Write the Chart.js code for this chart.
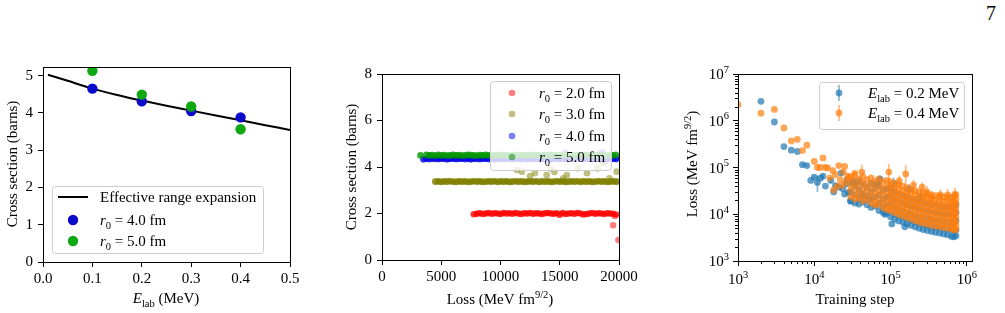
<!DOCTYPE html>
<html>
<head>
<meta charset="utf-8">
<script src="https://cdn.jsdelivr.net/npm/chart.js@4.4.0/dist/chart.umd.min.js"></script>
<style>
  body { margin: 0; background: #fff; width: 1005px; height: 313px; position: relative; overflow: hidden; }
  canvas { position: absolute; left: 0; top: 0; }
  #pg { position: absolute; left: 986px; top: 3px; font: 20px/20px "Liberation Serif", serif; }
</style>
</head>
<body>
<div id="pg">7</div>
<canvas id="c1" width="1005" height="313"></canvas>
<canvas id="c2" width="1005" height="313"></canvas>
<canvas id="c3" width="1005" height="313"></canvas>
<script>
/* ---------- panel 1 : cross section vs E_lab ---------- */
const ereE     = [0.01, 0.05, 0.1, 0.15, 0.2, 0.25, 0.3, 0.35, 0.4, 0.45, 0.5];
const ereSigma = [5.02, 4.86, 4.65, 4.48, 4.33, 4.19, 4.06, 3.93, 3.80, 3.67, 3.54];
const labE     = [0.1, 0.2, 0.3, 0.4];
const sigmaR4  = [4.65, 4.31, 4.05, 3.88];
const sigmaR5  = [5.13, 4.49, 4.17, 3.56];
const p1xTicks = [0, 0.1, 0.2, 0.3, 0.4, 0.5];
const p1yTicks = [0, 1, 2, 3, 4, 5];

/* ---------- panel 2 : cross section vs loss ---------- */
const lossGrid = [3250, 3500, 3750, 4000, 4250, 4500, 4750, 5000, 5250, 5500, 5750, 6000, 6250, 6500, 6750, 7000, 7250,
  7500, 7750, 8000, 8250, 8500, 8750, 9000, 9250, 9500, 9750, 10000, 10250, 10500, 10750, 11000, 11250, 11500, 11750,
  12000, 12250, 12500, 12750, 13000, 13250, 13500, 13750, 14000, 14250, 14500, 14750, 15000, 15250, 15500, 15750,
  16000, 16250, 16500, 16750, 17000, 17250, 17500, 17750, 18000, 18250, 18500, 18750, 19000, 19250, 19500, 19750];
const csR2 = [null, null, null, null, null, null, null, null, null, null, null, null, null, null, null, null, null, null,
  1.97, 1.99, 2.01, 1.98, 2.00, 2.02, 1.99, 2.01, 2.00, 1.98, 2.02, 2.00, 2.01, 1.99, 2.02, 2.00, 1.98, 2.01, 2.00,
  2.02, 1.99, 2.01, 2.00, 1.98, 2.01, 2.02, 2.00, 1.99, 2.01, 1.95, 2.02, 1.98, 2.00, 2.01, 1.99, 2.02, 2.00, 1.96,
  1.98, 2.00, 2.02, 1.99, 2.01, 2.00, 1.98, 2.01, 2.00, 1.99, 1.96];
const csR3 = [null, null, null, null, null, 3.37, 3.38, 3.36, 3.38, 3.37, 3.39, 3.37, 3.36, 3.38, 3.37, 3.38, 3.36,
  3.37, 3.39, 3.37, 3.38, 3.36, 3.37, 3.38, 3.37, 3.39, 3.36, 3.38, 3.37, 3.38, 3.36, 3.37, 3.39, 3.37, 3.38, 3.36,
  3.37, 3.38, 3.37, 3.39, 3.36, 3.38, 3.37, 3.38, 3.36, 3.37, 3.39, 3.37, 3.38, 3.36, 3.37, 3.38, 3.37, 3.39, 3.36,
  3.38, 3.37, 3.38, 3.36, 3.37, 3.39, 3.37, 3.38, 3.36, 3.37, 3.38, 3.37];
const csR4 = [null, 4.33, 4.35, 4.34, 4.36, 4.35, 4.34, 4.36, 4.35, 4.33, 4.35, 4.36, 4.34, 4.35, 4.36, 4.34, 4.35,
  4.33, 4.36, 4.35, 4.34, 4.35, 4.36, 4.34, 4.35, 4.33, 4.36, 4.35, 4.34, 4.36, 4.35, 4.34, 4.35, 4.36, 4.33, 4.35,
  4.34, 4.36, 4.35, 4.34, 4.35, 4.36, 4.34, 4.35, 4.33, 4.36, 4.35, 4.34, 4.36, 4.35, 4.34, 4.35, 4.36, 4.33, 4.35,
  4.34, 4.36, 4.35, 4.34, 4.35, 4.36, 4.34, 4.35, 4.33, 4.36, 4.35, 4.34];
const csR5 = [4.50, null, 4.52, 4.50, 4.51, 4.49, 4.52, 4.50, 4.51, 4.49, 4.50, 4.52, 4.50, 4.51, 4.49, 4.50, 4.52,
  4.51, 4.50, 4.49, 4.51, 4.50, 4.52, 4.50, 4.49, 4.51, 4.50, 4.52, 4.51, 4.50, 4.49, 4.51, 4.50, 4.52, 4.50, 4.51,
  4.49, 4.50, 4.52, 4.51, 4.50, 4.49, 4.51, 4.50, 4.52, 4.50, 4.51, 4.49, 4.50, 4.52, 4.51, 4.50, 4.49, 4.51, 4.50,
  4.52, 4.50, 4.51, 4.49, 4.50, 4.52, 4.51, 4.50, 4.49, 4.51, 4.50, 4.52];
// stray points
const redOutX   = [19500, 19650, 19950];
const redOutY   = [1.49, 1.89, 0.86];
const oliveOutX = [11390, 11800, 12500, 12900, 13900, 14200, 14550, 15300, 15600, 16500, 17300, 18200, 18600, 18800, 19200, 19800, 19900];
const oliveOutY = [3.87, 3.80, 3.61, 3.73, 3.65, 3.94, 3.78, 3.51, 3.65, 3.95, 3.73, 3.94, 4.18, 4.20, 3.51, 3.80, 3.37];
const blueOutX  = [15500, 18600, 19900];
const blueOutY  = [4.60, 4.62, 4.40];
const p2xTicks = [0, 5000, 10000, 15000, 20000];
const p2yTicks = [0, 2, 4, 6, 8];

/* ---------- panel 3 : loss vs training step ---------- */
const blueSteps = [2000, 3000, 4000, 5000, 6000, 7000, 8000, 9000, 10000, 11000, 12000, 13000, 14000, 16500, 18000,
  19000, 21000, 22500, 23700, 25000, 26000, 27000, 28000, 30000, 32000, 36000, 42000, 52000, 64000, 73000, 84000,
  104000, 110000, 154000, 175000, 250000];
const blueLoss  = [2.6e6, 9.4e5, 2.8e5, 2.35e5, 2.2e5, 1.15e5, 1.1e5, 5.3e4, 6.2e4, 4.8e4, 5.9e4, 6.5e4, 4.0e4, 5.3e4, 3.0e4,
  4.1e4, 3.8e4, 7.6e4, 3.5e4, 2.7e4, 4.45e4, 5.5e4, 2.9e4, 1.95e4, 5.2e4, 4.7e4, 2.5e4, 2.2e4, 4.5e4, 5.6e4, 1.0e4,
  6.2e3, 4.5e4, 5.4e3, 3.4e4, 2.4e4];
const blueErr   = [0, 0, 0, 0, 0, 8000, 6000, 0, 5000, 18000, 0, 8000, 0, 6000, 0,
  0, 0, 8000, 0, 0, 0, 0, 0, 0, 0, 0, 0, 0, 0, 12000, 0,
  0, 15000, 0, 10000, 8000];
const orangeSteps = [1000, 2000, 3000, 4000, 5000, 6000, 7000, 8000, 10000, 11000, 12000, 13000, 14000, 15000, 16000,
  17500, 18000, 19000, 20000, 21000, 22000, 23000, 24000, 25000, 26000, 27500, 28000, 33700, 42000, 95000, 130000,
  158000, 200000, 260000, 300000, 350000, 450000, 560000, 700000];
const orangeLoss  = [2.2e6, 1.45e6, 1.75e6, 7.0e5, 3.7e5, 4.0e5, 2.3e5, 3.0e5, 1.35e5, 1.0e5, 1.0e5, 1.6e5, 1.0e5, 9.8e4, 6.0e4,
  8.6e4, 3.3e4, 7.0e4, 4.0e4, 1.1e5, 5.5e4, 4.1e4, 8.0e4, 1.05e5, 4.8e4, 6.5e4, 5.8e4, 6.9e4, 8.0e4, 8.0e4, 5.2e4,
  7.3e4, 4.2e4, 3.8e4, 3.0e4, 2.3e4, 2.6e4, 2.6e4, 2.7e4];
const orangeErr   = [0, 0, 0, 0, 0, 0, 0, 0, 0, 0, 0, 0, 0, 0, 0,
  0, 0, 0, 0, 0, 0, 0, 0, 0, 0, 8000, 0, 0, 35000, 40000, 15000,
  40000, 12000, 10000, 10000, 8000, 8000, 9000, 10000];
// dense part of the run: several readings per step
const blobSteps = [30000, 34000, 38500, 43500, 49000, 55500, 62500, 70500, 79500, 89000, 100000, 113000, 128000, 145000,
  164000, 185000, 210000, 237000, 268000, 303000, 343000, 388000, 439000, 496000, 560000, 630000, 680000, 720000];
const orangeBlob = [
  [62000, 44000, 33000, 24000], [75000, 52000, 38000, 27000, 21000], [57000, 42000, 30000, 22500],
  [64000, 47000, 34000, 25000, 19000], [55000, 39000, 28500, 21000], [60000, 44000, 32000, 23500, 17500],
  [52000, 37000, 27000, 19500, 15500], [57000, 41000, 30000, 22000, 16500], [49000, 35000, 26000, 19000, 14000],
  [53000, 39000, 28000, 20500, 15000, 12500],
  [50000, 41000, 33000, 27000, 22000, 18000, 14500, 12000], [46000, 37000, 30000, 24500, 20000, 16000, 13000, 10800],
  [43000, 35000, 28000, 23000, 18500, 15000, 12000, 9800], [40000, 32000, 26000, 21000, 17000, 14000, 11200, 9200],
  [37000, 30000, 24000, 19500, 16000, 13000, 10500, 8500], [34000, 28000, 22500, 18500, 15000, 12000, 9700, 7900],
  [32000, 26000, 21000, 17000, 14000, 11200, 9000, 7300], [30000, 24500, 20000, 16000, 13000, 10500, 8400, 6800],
  [28500, 23000, 18800, 15200, 12300, 10000, 8000, 6400], [27000, 22000, 18000, 14500, 11800, 9500, 7600, 6100],
  [26000, 21000, 17200, 14000, 11300, 9100, 7300, 5800], [25000, 20300, 16500, 13400, 10800, 8700, 7000, 5600],
  [24000, 19600, 16000, 13000, 10400, 8400, 6700, 5400], [23500, 19000, 15500, 12500, 10100, 8100, 6500, 5200],
  [23000, 18600, 15000, 12200, 9800, 7900, 6300, 5000], [23000, 18500, 15000, 12000, 9600, 7700, 6100, 4900],
  [24000, 19500, 15800, 12700, 10200, 8200, 6500, 5200, 4600], [26000, 21000, 17000, 13800, 11000, 8800, 7000, 5600, 4700]
];
const blueBlob = [
  [48000, 30000, 19000], [40000, 26000, 17500], [52000, 33000, 22000, 16500], [44000, 28000, 18500],
  [38000, 24500, 16000], [46000, 30000, 20000, 14000], [36000, 23000, 15000], [41000, 26000, 17000, 12000],
  [33000, 21000, 14500, 11000], [35000, 23000, 15500, 10500],
  [36000, 25000, 17000, 12000, 8800], [30000, 21000, 14500, 10300, 7900], [27000, 19000, 13000, 9400, 7200],
  [25000, 17500, 12000, 8800, 6800], [23000, 16000, 11000, 8100, 6300], [21000, 15000, 10300, 7500, 5800],
  [20000, 14000, 9600, 7000, 5400], [18500, 13000, 9000, 6500, 5000], [17500, 12300, 8500, 6100, 4700],
  [16500, 11700, 8100, 5800, 4500], [16000, 11200, 7800, 5550, 4300], [15300, 10800, 7500, 5350, 4100],
  [14800, 10400, 7200, 5150, 3950], [14300, 10000, 7000, 5000, 3800], [14000, 9800, 6800, 4800, 3650],
  [14000, 9600, 6600, 4700, 3350], [15000, 10000, 6900, 4500, 3300], [16000, 11000, 7400, 4600, 3450]
];
const p3xMajor = [1e3, 1e4, 1e5, 1e6];
const p3yMajor = [1e3, 1e4, 1e5, 1e6, 1e7];

/* ---------- helpers ---------- */
const FAMILY = '"Liberation Serif", "Times New Roman", serif';
const FS = 15;

const xy = (xs, ys) => xs.map((x, i) => ({ x, y: ys[i] })).filter(p => p.y != null);
const xye = (xs, ys, es) => xs.map((x, i) => ({ x, y: ys[i], e: es[i] }));
const blob = (xs, rows) => xs.flatMap((x, i) => rows[i].map(y => ({ x, y })));

// text with italic / sub / sup pieces
function rich(ctx, parts, x, y, align, rotate) {
  const fnt = st => (st === 'i' ? 'italic ' : '') + ((st === 'sub' || st === 'sup') ? FS * 0.7 : FS) + 'px ' + FAMILY;
  let w = 0;
  const ws = parts.map(([t, st]) => { ctx.font = fnt(st); const m = ctx.measureText(t).width; w += m; return m; });
  ctx.save();
  ctx.translate(x, y);
  if (rotate) ctx.rotate(-Math.PI / 2);
  let cx = align === 'center' ? -w / 2 : align === 'right' ? -w : 0;
  ctx.fillStyle = '#000';
  ctx.textAlign = 'left';
  ctx.textBaseline = 'alphabetic';
  parts.forEach(([t, st], i) => {
    ctx.font = fnt(st);
    const dy = st === 'sub' ? FS * 0.25 : st === 'sup' ? -FS * 0.42 : 0;
    ctx.fillText(t, cx, dy);
    cx += ws[i];
  });
  ctx.restore();
}

function legendBox(ctx, x0, y0, x1, y1) {
  ctx.save();
  ctx.beginPath();
  ctx.roundRect(x0 + 0.5, y0 + 0.5, x1 - x0, y1 - y0, 3);
  ctx.fillStyle = 'rgba(255,255,255,0.8)';
  ctx.fill();
  ctx.strokeStyle = '#cccccc';
  ctx.lineWidth = 1;
  ctx.stroke();
  ctx.restore();
}

function dot(ctx, x, y, r, color) {
  ctx.beginPath();
  ctx.arc(x, y, r, 0, Math.PI * 2);
  ctx.fillStyle = color;
  ctx.fill();
}

const frame = {
  id: 'frame',
  afterDraw(chart) {
    const { ctx, chartArea: a } = chart;
    ctx.save();
    ctx.strokeStyle = '#000';
    ctx.lineWidth = 1;
    ctx.strokeRect(Math.round(a.left) + 0.5, Math.round(a.top) + 0.5, Math.round(a.right - a.left), Math.round(a.bottom - a.top));
    ctx.restore();
  }
};

const errorBars = {
  id: 'errorBars',
  beforeDatasetDraw(chart, args) {
    const ds = chart.data.datasets[args.index];
    if (!ds.errColor) return;
    const { ctx, scales: { y } } = chart;
    ctx.save();
    ctx.strokeStyle = ds.errColor;
    ctx.lineWidth = 1.8;
    args.meta.data.forEach((pt, i) => {
      const d = ds.data[i];
      if (!d.e) return;
      ctx.beginPath();
      ctx.moveTo(pt.x, y.getPixelForValue(d.y + d.e));
      ctx.lineTo(pt.x, y.getPixelForValue(Math.max(d.y - d.e, 1)));
      ctx.stroke();
    });
    ctx.restore();
  }
};

const tickGrid = { display: true, drawOnChartArea: false, drawTicks: true, tickLength: 5, color: '#000', lineWidth: 1 };
const tickFont = { family: FAMILY, size: FS };

function baseOptions(box, xScale, yScale) {
  return {
    responsive: false,
    animation: false,
    events: [],
    layout: { padding: { left: 0, top: box.T, right: 1005 - box.R, bottom: 0 } },
    plugins: { legend: { display: false }, tooltip: { enabled: false } },
    scales: {
      x: Object.assign({ position: 'bottom', grid: tickGrid, border: { display: false },
        afterFit: s => { s.height = 313 - box.B; } }, xScale),
      y: Object.assign({ position: 'left', grid: tickGrid, border: { display: false },
        afterFit: s => { s.width = box.L; } }, yScale)
    }
  };
}

/* ---------- panel 1 ---------- */
const BLUE1 = '#0b0bcc', GREEN1 = '#10a810';
new Chart(document.getElementById('c1'), {
  type: 'scatter',
  data: { datasets: [
    { data: xy(ereE, ereSigma), showLine: true, borderColor: '#000', borderWidth: 2, pointRadius: 0,
      cubicInterpolationMode: 'monotone', order: 3 },
    { data: xy(labE, sigmaR4), pointBackgroundColor: BLUE1, pointBorderWidth: 0, pointRadius: 5.2, order: 2 },
    { data: xy(labE, sigmaR5), pointBackgroundColor: GREEN1, pointBorderWidth: 0, pointRadius: 5.2, order: 1 }
  ]},
  options: baseOptions({ L: 43, R: 290, T: 67, B: 262 },
    { type: 'linear', min: 0, max: 0.5,
      afterBuildTicks: s => { s.ticks = p1xTicks.map(value => ({ value })); },
      ticks: { font: tickFont, color: '#000', padding: 3, autoSkip: false, maxRotation: 0, callback: v => v.toFixed(1) } },
    { type: 'linear', min: 0, max: 5.23,
      afterBuildTicks: s => { s.ticks = p1yTicks.map(value => ({ value })); },
      ticks: { font: tickFont, color: '#000', padding: 5, autoSkip: false, callback: v => String(v) } }),
  plugins: [frame, {
    id: 'deco1',
    afterDraw(chart) {
      const { ctx } = chart;
      rich(ctx, [['Cross section (barns)', '']], 17, 164, 'center', true);
      rich(ctx, [['E', 'i'], ['lab', 'sub'], [' (MeV)', '']], 166, 303, 'center');
      legendBox(ctx, 52, 186, 263, 253);
      ctx.save();
      ctx.strokeStyle = '#000'; ctx.lineWidth = 2;
      ctx.beginPath(); ctx.moveTo(58, 197); ctx.lineTo(88, 197); ctx.stroke();
      ctx.restore();
      dot(ctx, 73, 220, 5.2, BLUE1);
      dot(ctx, 73, 241, 5.2, GREEN1);
      rich(ctx, [['Effective range expansion', '']], 100, 202, 'left');
      rich(ctx, [['r', 'i'], ['0', 'sub'], [' = 4.0 fm', '']], 100, 225, 'left');
      rich(ctx, [['r', 'i'], ['0', 'sub'], [' = 5.0 fm', '']], 100, 246, 'left');
    }
  }]
});

/* ---------- panel 2 ---------- */
// legend / single-point colours (alpha 0.5) and the heavily overplotted bands
const C2 = ['rgba(255,0,0,0.5)', 'rgba(128,128,0,0.5)', 'rgba(0,0,255,0.5)', 'rgba(0,128,0,0.5)'];
const C2band = ['rgba(255,0,0,0.8)', 'rgba(128,128,0,0.85)', 'rgba(0,0,230,0.8)', 'rgba(0,150,0,0.8)'];
const pts2 = (data, color, order) => ({ data, pointBackgroundColor: color, pointBorderWidth: 0, pointRadius: 3.3, order });
new Chart(document.getElementById('c2'), {
  type: 'scatter',
  data: { datasets: [
    pts2(xy(lossGrid, csR2), C2band[0], 8),
    pts2(xy(redOutX, redOutY), C2[0], 7),
    pts2(xy(lossGrid, csR3), C2band[1], 6),
    pts2(xy(oliveOutX, oliveOutY), C2[1], 5),
    pts2(xy(lossGrid, csR4), C2band[2], 4),
    pts2(xy(blueOutX, blueOutY), C2[2], 3),
    pts2(xy(lossGrid, csR5), C2band[3], 2)
  ]},
  options: baseOptions({ L: 382, R: 619, T: 74, B: 260 },
    { type: 'linear', min: 0, max: 20000,
      afterBuildTicks: s => { s.ticks = p2xTicks.map(value => ({ value })); },
      ticks: { font: tickFont, color: '#000', padding: 3, autoSkip: false, maxRotation: 0, callback: v => String(v) } },
    { type: 'linear', min: 0, max: 8,
      afterBuildTicks: s => { s.ticks = p2yTicks.map(value => ({ value })); },
      ticks: { font: tickFont, color: '#000', padding: 5, autoSkip: false, callback: v => String(v) } }),
  plugins: [frame, {
    id: 'deco2',
    afterDraw(chart) {
      const { ctx } = chart;
      rich(ctx, [['Cross section (barns)', '']], 356, 167, 'center', true);
      rich(ctx, [['Loss (MeV fm', ''], ['9/2', 'sup'], [')', '']], 500, 304, 'center');
      legendBox(ctx, 490, 81, 611, 170);
      const rows = [93, 114, 136, 157], vals = ['2.0', '3.0', '4.0', '5.0'];
      rows.forEach((y, i) => {
        dot(ctx, 512, y, 3.3, C2[i]);
        rich(ctx, [['r', 'i'], ['0', 'sub'], [' = ' + vals[i] + ' fm', '']], 539, y + 5, 'left');
      });
    }
  }]
});

/* ---------- panel 3 ---------- */
const TB = 'rgba(31,119,180,0.7)', TO = 'rgba(255,127,14,0.7)';
const TBe = 'rgba(31,119,180,0.5)', TOe = 'rgba(255,127,14,0.5)';
new Chart(document.getElementById('c3'), {
  type: 'scatter',
  data: { datasets: [
    { data: xye(blueSteps, blueLoss, blueErr).concat(blob(blobSteps, blueBlob)), pointBackgroundColor: TB,
      pointBorderWidth: 0, pointRadius: 3.4, errColor: TBe, order: 2 },
    { data: xye(orangeSteps, orangeLoss, orangeErr).concat(blob(blobSteps, orangeBlob)), pointBackgroundColor: TO,
      pointBorderWidth: 0, pointRadius: 3.4, errColor: TOe, order: 1 }
  ]},
  options: baseOptions({ L: 738, R: 972, T: 74, B: 261 },
    { type: 'logarithmic', min: 1e3, max: 1.17e6,
      afterBuildTicks: s => { s.ticks = p3xMajor.map(value => ({ value })); },
      ticks: { display: false } },
    { type: 'logarithmic', min: 1e3, max: 1e7,
      afterBuildTicks: s => { s.ticks = p3yMajor.map(value => ({ value })); },
      ticks: { display: false } }),
  plugins: [frame, errorBars, {
    id: 'deco3',
    afterDraw(chart) {
      const { ctx, chartArea: a, scales: { x, y } } = chart;
      // minor ticks
      ctx.save();
      ctx.strokeStyle = '#000'; ctx.lineWidth = 1;
      for (let d = 1e3; d < 1e7; d *= 10) {
        for (let m = 2; m <= 9; m++) {
          const v = m * d;
          if (v < x.max) {
            const px = Math.round(x.getPixelForValue(v)) + 0.5;
            ctx.beginPath(); ctx.moveTo(px, a.bottom); ctx.lineTo(px, a.bottom + 3); ctx.stroke();
          }
          const py = Math.round(y.getPixelForValue(v)) + 0.5;
          ctx.beginPath(); ctx.moveTo(a.left, py); ctx.lineTo(a.left - 3, py); ctx.stroke();
        }
      }
      ctx.restore();
      p3xMajor.forEach(v => rich(ctx, [['10', ''], [String(Math.log10(v)), 'sup']], x.getPixelForValue(v), 284, 'center'));
      p3yMajor.forEach(v => rich(ctx, [['10', ''], [String(Math.log10(v)), 'sup']], a.left - 9, y.getPixelForValue(v) + 5, 'right'));
      rich(ctx, [['Loss (MeV fm', ''], ['9/2', 'sup'], [')', '']], 697, 164, 'center', true);
      rich(ctx, [['Training step', '']], 855, 304, 'center');
      legendBox(ctx, 819, 82, 964, 129);
      [[93, TB, TBe, '0.2'], [113, TO, TOe, '0.4']].forEach(([ly, c, ce, v]) => {
        ctx.save();
        ctx.strokeStyle = ce; ctx.lineWidth = 1.8;
        ctx.beginPath(); ctx.moveTo(839, ly - 8); ctx.lineTo(839, ly + 8); ctx.stroke();
        ctx.restore();
        dot(ctx, 839, ly, 3.4, c);
        rich(ctx, [['E', 'i'], ['lab', 'sub'], [' = ' + v + ' MeV', '']], 868, ly + 5, 'left');
      });
    }
  }]
});
</script>
</body>
</html>
